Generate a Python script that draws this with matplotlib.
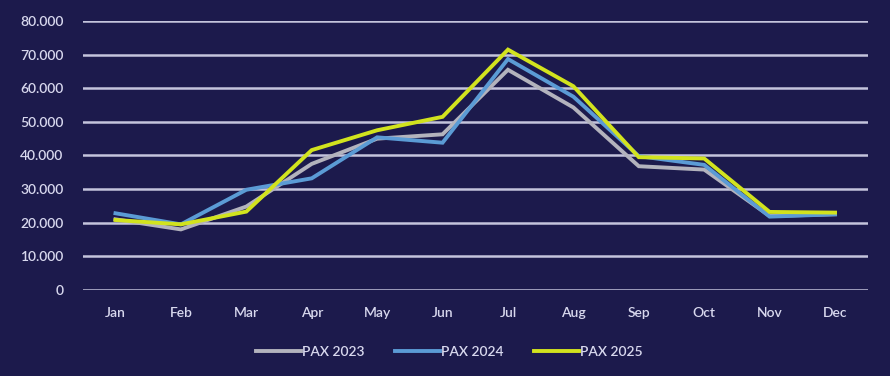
import matplotlib
matplotlib.use("Agg")
import matplotlib.pyplot as plt
from matplotlib.ticker import FuncFormatter

months = ["Jan", "Feb", "Mar", "Apr", "May", "Jun", "Jul", "Aug", "Sep", "Oct", "Nov", "Dec"]
pax_2023 = [21000, 18000, 24800, 37500, 45000, 46300, 65500, 54300, 36800, 35800, 22000, 22500]
pax_2024 = [22800, 19500, 29800, 33200, 45400, 43800, 68700, 57500, 39800, 37200, 21800, 22500]
pax_2025 = [20800, 19500, 23300, 41600, 47500, 51500, 71500, 60600, 39500, 39100, 23200, 23000]

series = [("PAX 2023", pax_2023, "#b3b3bd"),
          ("PAX 2024", pax_2024, "#5b9bd5"),
          ("PAX 2025", pax_2025, "#d2e31e")]

bg = "#1c1a4c"
txt = "#d8d8ee"
plt.rcParams['font.family'] = ['Lato', 'DejaVu Sans']
plt.rcParams['font.weight'] = 'semibold'

fig = plt.figure(figsize=(8.9, 3.76), dpi=100, facecolor=bg)
ax = fig.add_axes([0.093, 0.229, 0.882, 0.715])
ax.set_facecolor(bg)

x = list(range(len(months)))
for name, vals, col in series:
    ax.plot(x, vals, color=col, lw=2.8, label=name, solid_joinstyle='miter', zorder=3)

ax.set_xlim(-0.5, 11.5)
ax.set_ylim(0, 80000)
ax.set_yticks(range(0, 80001, 10000))
ax.yaxis.set_major_formatter(FuncFormatter(lambda v, p: "0" if v == 0 else f"{int(v):,}".replace(",", ".")))
ax.set_xticks(x)
ax.set_xticklabels(months)
ax.grid(axis='y', color="#c4c4dc", lw=1.8, zorder=1)
ax.set_axisbelow(True)
for s in ax.spines.values():
    s.set_visible(False)
ax.tick_params(axis='both', length=0, colors=txt, labelsize=10)
ax.tick_params(axis='x', pad=12)
ax.tick_params(axis='y', pad=14)

leg = fig.legend(loc='center', bbox_to_anchor=(0.505, 0.063), ncol=3, frameon=False,
                 fontsize=10, handlelength=3.2, handletextpad=0.1, columnspacing=2.2)
for t in leg.get_texts():
    t.set_color(txt)

fig.savefig("out.png", dpi=100, facecolor=bg)
